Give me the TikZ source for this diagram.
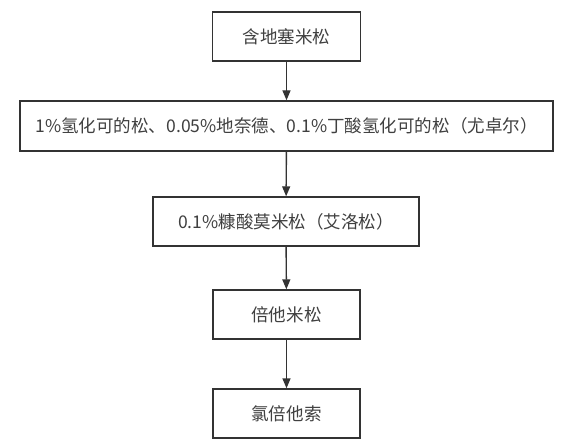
\documentclass[tikz,border=0pt]{standalone}
\usepackage{fontspec}
\newfontfamily\cjk{Noto Sans CJK SC}
\usetikzlibrary{arrows.meta}
\definecolor{ln}{HTML}{333333}
\definecolor{tx}{HTML}{404040}
\tikzset{
  box/.style={draw=ln, line width=1.4bp, rectangle, minimum height=49bp, inner sep=0pt,
    font=\cjk\fontsize{17.6}{21}\selectfont, text=tx, fill=white},
  arr/.style={draw=ln, line width=1.4bp, -{Triangle[length=10bp,width=8bp]}}
}
\begin{document}
\begin{tikzpicture}[x=1bp,y=-1bp]
\useasboundingbox (0,0) rectangle (571,447);
\node[box, minimum width=148bp] (a) at (286.5,36.5) {含地塞米松};
\node[box, minimum width=533bp, minimum height=50bp] (b) at (286.5,126) {1\%氢化可的松、0.05\%地奈德、0.1\%丁酸氢化可的松（尤卓尔）};
\node[box, minimum width=266bp] (c) at (286,221.5) {0.1\%糠酸莫米松（艾洛松）};
\node[box, minimum width=147bp] (d) at (286.5,314.5) {倍他米松};
\node[box, minimum width=147bp] (e) at (286.5,413.5) {氯倍他索};
\draw[arr] (a) -- (b);
\draw[arr] (b) -- (c);
\draw[arr] (c) -- (d);
\draw[arr] (d) -- (e);
\end{tikzpicture}
\end{document}
